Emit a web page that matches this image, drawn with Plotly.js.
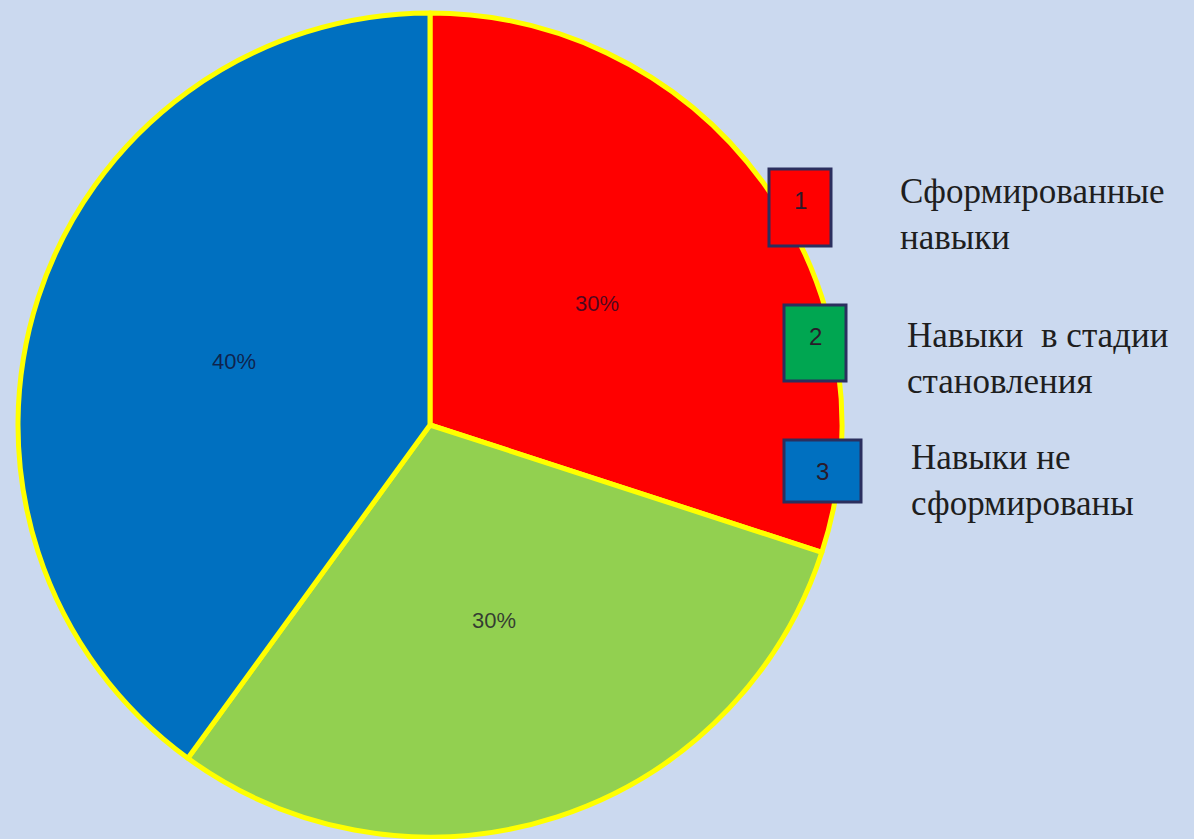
<!DOCTYPE html>
<html>
<head>
<meta charset="utf-8">
<script src="https://cdn.plot.ly/plotly-3.0.1.min.js"></script>
<style>
html,body{margin:0;padding:0;background:#cbd9ef;}
#chart{width:1194px;height:839px;}
</style>
</head>
<body>
<div id="chart"></div>
<script>
const categories = ['Сформированные навыки', 'Навыки в стадии становления', 'Навыки не сформированы'];
const values = [30, 30, 40];
const sliceColors = ['#ff0000', '#92d050', '#0070c0'];
const legendNumbers = ['1', '2', '3'];
const legendLabels = ['Сформированные<br>навыки', 'Навыки&nbsp; в стадии<br>становления', 'Навыки не<br>сформированы'];
const legendColors = ['#ff0000', '#00a651', '#0070c0'];

const W = 1194, H = 839;
// legend box geometry in pixels (left, top, right, bottom)
const boxes = [[769, 169, 831, 246], [784, 305, 846, 381], [784, 440, 861, 502]];
const labelPos = [[898, 214], [905, 358], [909, 480]];

const shapes = [], annotations = [];
boxes.forEach((b, i) => {
  shapes.push({type: 'rect', xref: 'paper', yref: 'paper',
    x0: b[0] / W, x1: b[2] / W, y0: 1 - b[3] / H, y1: 1 - b[1] / H,
    fillcolor: legendColors[i], line: {color: '#2b2f5e', width: 3}});
  annotations.push({xref: 'paper', yref: 'paper', x: (b[0] + b[2]) / 2 / W, y: 1 - (b[1] + 31) / H,
    text: legendNumbers[i], showarrow: false, xanchor: 'center', yanchor: 'middle',
    font: {family: 'Liberation Sans, Arial', size: 24, color: '#2a1a2a'}});
  annotations.push({xref: 'paper', yref: 'paper', x: labelPos[i][0] / W, y: 1 - labelPos[i][1] / H,
    text: legendLabels[i], showarrow: false, xanchor: 'left', yanchor: 'middle', align: 'left',
    font: {family: 'Liberation Serif, Times New Roman', size: 35, color: '#1e1e1e'}});
});

const cx = 430, cy = 425, R = 412;

// percentage labels placed at half radius along each slice's mid-angle, derived from the values
const total = values.reduce((a, b) => a + b, 0);
let cum = 0;
values.forEach((v, i) => {
  const mid = (cum + v / 2) / total * 2 * Math.PI;
  cum += v;
  const px = cx + 0.5 * R * Math.sin(mid);
  const py = cy - 0.5 * R * Math.cos(mid);
  annotations.push({xref: 'paper', yref: 'paper', x: px / W, y: 1 - py / H,
    text: Math.round(v / total * 100) + '%', showarrow: false, xanchor: 'center', yanchor: 'middle',
    font: {family: 'Liberation Sans, Arial', size: 22, color: 'rgba(20,10,40,0.75)'}});
});

const trace = {
  type: 'pie',
  labels: categories,
  values: values,
  sort: false,
  direction: 'clockwise',
  rotation: 0,
  marker: {colors: sliceColors, line: {color: '#ffff00', width: 5}},
  textinfo: 'none',
  textposition: 'none',
  hoverinfo: 'label+percent',
  domain: {x: [(cx - R) / W, (cx + R) / W], y: [(H - cy - R) / H, (H - cy + R) / H]},
  showlegend: false
};

const layout = {
  width: W, height: H,
  margin: {l: 0, r: 0, t: 0, b: 0},
  paper_bgcolor: '#cbd9ef',
  plot_bgcolor: '#cbd9ef',
  showlegend: false,
  shapes: shapes,
  annotations: annotations
};

Plotly.newPlot('chart', [trace], layout, {displayModeBar: false, staticPlot: true});
</script>
</body>
</html>
